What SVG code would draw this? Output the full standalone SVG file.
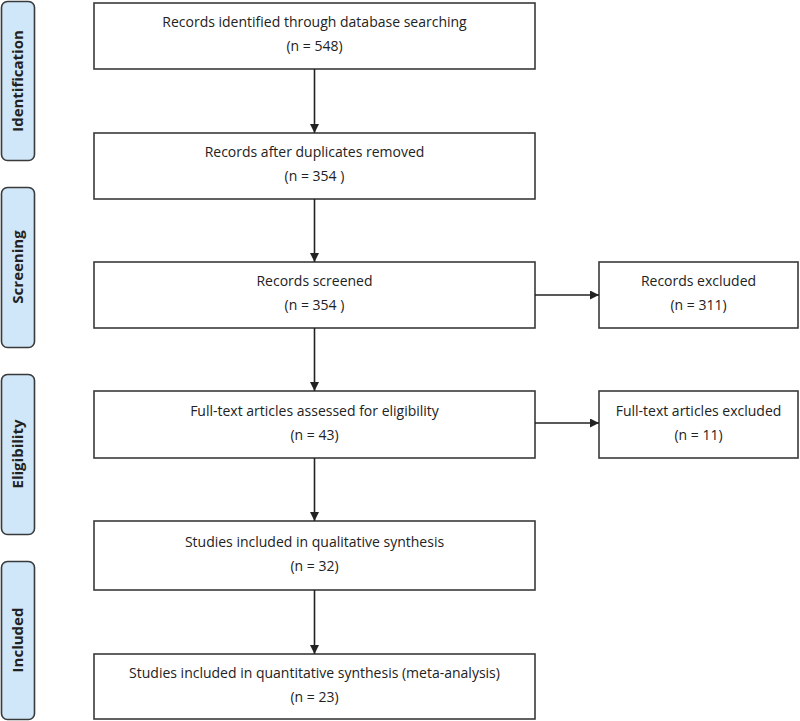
<svg xmlns="http://www.w3.org/2000/svg" width="800" height="721" viewBox="0 0 800 721">
<style>
.box{fill:#fff;stroke:#3a3a3a;stroke-width:1.6}
.side{fill:#cfe7f8;stroke:#3a3a3a;stroke-width:1.6}
.t{font-family:"Open Sans","Liberation Sans",sans-serif;font-size:14px;fill:#222;text-anchor:middle}
.s{font-family:"Open Sans","Liberation Sans",sans-serif;font-size:15px;font-weight:bold;fill:#222;text-anchor:middle}
.c{stroke:#222;stroke-width:1.6;fill:none;marker-end:url(#ah)}
</style>
<defs>
<marker id="ah" viewBox="0 0 10 10" refX="10" refY="5" markerWidth="9" markerHeight="9" markerUnits="userSpaceOnUse" orient="auto">
<path d="M0,0 L10,5 L0,10 z" fill="#222"/>
</marker>
</defs>
<rect width="800" height="721" fill="#fff"/>
<g id="side-identification"><rect class="side" x="1.5" y="1.5" width="33" height="159" rx="6"/><text class="s" transform="translate(23,81) rotate(-90)">Identification</text></g>
<g id="side-screening"><rect class="side" x="1.5" y="187.5" width="33" height="160" rx="6"/><text class="s" transform="translate(23,267) rotate(-90)">Screening</text></g>
<g id="side-eligibility"><rect class="side" x="1.5" y="374.5" width="33" height="160" rx="6"/><text class="s" transform="translate(23,454) rotate(-90)">Eligibility</text></g>
<g id="side-included"><rect class="side" x="1.5" y="561.5" width="33" height="158" rx="6"/><text class="s" transform="translate(23,640) rotate(-90)">Included</text></g>

<g id="n1"><rect class="box" x="94" y="3" width="441" height="66"/><text class="t" x="314.5" y="27">Records identified through database searching</text><text class="t" x="314.5" y="51">(n = 548)</text></g>
<g id="n2"><rect class="box" x="94" y="133" width="441" height="66"/><text class="t" x="314.5" y="157">Records after duplicates removed</text><text class="t" x="314.5" y="181">(n = 354  )</text></g>
<g id="n3"><rect class="box" x="94" y="262" width="441" height="66"/><text class="t" x="314.5" y="286">Records screened</text><text class="t" x="314.5" y="310">(n = 354  )</text></g>
<g id="n4"><rect class="box" x="599" y="262" width="199" height="66"/><text class="t" x="698.5" y="286">Records excluded</text><text class="t" x="698.5" y="310">(n = 311)</text></g>
<g id="n5"><rect class="box" x="94" y="391" width="441" height="67"/><text class="t" x="314.5" y="416">Full-text articles assessed for eligibility</text><text class="t" x="314.5" y="440">(n = 43)</text></g>
<g id="n6"><rect class="box" x="599" y="391" width="199" height="67"/><text class="t" x="698.5" y="416">Full-text articles excluded</text><text class="t" x="698.5" y="440">(n = 11)</text></g>
<g id="n7"><rect class="box" x="94" y="521" width="441" height="69"/><text class="t" x="314.5" y="547">Studies included in qualitative synthesis</text><text class="t" x="314.5" y="571">(n = 32)</text></g>
<g id="n8"><rect class="box" x="94" y="654" width="441" height="65"/><text class="t" x="314.5" y="678">Studies included in quantitative synthesis (meta-analysis)</text><text class="t" x="314.5" y="702">(n = 23)</text></g>

<g id="connectors">
<line class="c" x1="314.5" y1="69" x2="314.5" y2="133"/>
<line class="c" x1="314.5" y1="199" x2="314.5" y2="262"/>
<line class="c" x1="314.5" y1="328" x2="314.5" y2="391"/>
<line class="c" x1="314.5" y1="458" x2="314.5" y2="521"/>
<line class="c" x1="314.5" y1="590" x2="314.5" y2="654"/>
<line class="c" x1="535" y1="295" x2="599" y2="295"/>
<line class="c" x1="535" y1="423" x2="599" y2="423"/>
</g>
</svg>
